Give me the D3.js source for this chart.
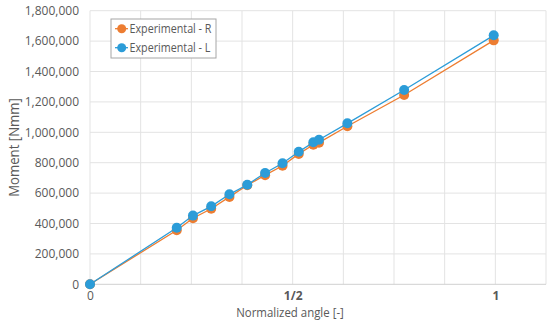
<!DOCTYPE html>
<html>
<head>
<meta charset="utf-8">
<script src="https://cdn.jsdelivr.net/npm/d3@7"></script>
<style>
  body { margin: 0; background: #fff; }
  text { font-family: "Open Sans", "Noto Sans", sans-serif; fill: #595959; }
</style>
</head>
<body>
<script>
// normalized angle values (shared by both series)
const angles = [0, 0.214, 0.254, 0.299, 0.344, 0.388, 0.432, 0.475, 0.515, 0.551, 0.565, 0.635, 0.775, 0.996];
const momentR = [0, 356000, 435000, 497000, 575000, 652000, 718000, 780000, 858000, 918000, 932000, 1040000, 1245000, 1605000];
const momentL = [0, 372000, 452000, 513000, 592000, 655000, 732000, 796000, 872000, 934000, 951000, 1059000, 1278000, 1638000];
const seriesNames = ["Experimental - R", "Experimental - L"];
const xTickVals = [0, 0.5, 1];
const xTickLabels = ["0", "1/2", "1"];

const width = 550, height = 326;
const margin = { top: 10.7, right: 4, bottom: 41.7, left: 90 };

var svg = d3.select("body")
    .append("svg")
    .attr("width", width)
    .attr("height", height);

const xScale = d3.scaleLinear().domain([0, 1.125]).range([margin.left, width - margin.right]);
const yScale = d3.scaleLinear().domain([0, 1800000]).range([height - margin.bottom, margin.top]);

const colors = ["#ED7D31", "#2B9CD8"];

// gridlines
svg.append("g").selectAll("line")
    .data(d3.range(0, 1.125 + 1e-9, 0.125))
    .enter().append("line")
    .attr("x1", d => xScale(d)).attr("x2", d => xScale(d))
    .attr("y1", yScale(0)).attr("y2", yScale(1800000))
    .attr("stroke", "#e3e3e3").attr("stroke-width", 1);

svg.append("g").selectAll("line")
    .data(d3.range(0, 1800001, 200000))
    .enter().append("line")
    .attr("x1", xScale(0)).attr("x2", xScale(1.125))
    .attr("y1", d => yScale(d)).attr("y2", d => yScale(d))
    .attr("stroke", d => d === 0 ? "#d0d0d0" : "#e3e3e3").attr("stroke-width", 1);

// y axis labels
const yAxis = d3.axisLeft(yScale).tickValues(d3.range(0, 1800001, 200000)).tickFormat(d3.format(",")).tickSize(0).tickPadding(11);
svg.append("g")
    .attr("transform", `translate(${margin.left},0)`)
    .call(yAxis)
    .call(g => g.select(".domain").remove())
    .selectAll("text")
    .attr("font-size", 12).attr("fill", "#595959")
    .style("font-family", '"Open Sans", sans-serif');

// x axis labels
const xAxis = d3.axisBottom(xScale).tickValues(xTickVals).tickFormat((d, i) => xTickLabels[i]).tickSize(0).tickPadding(7);
svg.append("g")
    .attr("transform", `translate(0,${yScale(0)})`)
    .call(xAxis)
    .call(g => g.select(".domain").remove())
    .selectAll("text")
    .attr("font-size", 12).attr("fill", (d, i) => i === 0 ? "#595959" : "#222")
    .attr("font-weight", (d, i) => i === 0 ? "normal" : "bold")
    .style("font-family", '"Open Sans", sans-serif');

// axis titles (slightly condensed, like the reference)
svg.append("text")
    .attr("transform", "translate(290,317) scale(0.88,1)")
    .attr("text-anchor", "middle")
    .attr("font-size", 13)
    .text("Normalized angle [-]");

svg.append("text")
    .attr("transform", `translate(18.5,${(yScale(0) + yScale(1800000)) / 2}) rotate(-90) scale(0.91,1)`)
    .attr("text-anchor", "middle")
    .attr("font-size", 14.5)
    .text("Moment [Nmm]");

// series
const series = [momentR, momentL].map((vals, i) => ({
    name: seriesNames[i],
    color: colors[i],
    points: vals.map((v, j) => ({ x: angles[j], y: v }))
}));

const line = d3.line().x(d => xScale(d.x)).y(d => yScale(d.y));

const seriesGroup = svg.selectAll(".series")
    .data(series).enter().append("g")
    .attr("class", "series");

seriesGroup.append("path")
    .attr("d", d => line(d.points))
    .attr("fill", "none")
    .attr("stroke", d => d.color)
    .attr("stroke-width", 1.3);

seriesGroup.selectAll("circle")
    .data(d => d.points.map(p => ({ ...p, color: d.color })))
    .enter().append("circle")
    .attr("cx", d => xScale(d.x))
    .attr("cy", d => yScale(d.y))
    .attr("r", 5)
    .attr("fill", d => d.color);

// legend
const legend = svg.append("g").attr("transform", "translate(111,19)");
legend.append("rect")
    .attr("width", 105).attr("height", 39)
    .attr("fill", "#fff").attr("stroke", "#a6a6a6").attr("stroke-width", 1);

const legendItem = legend.selectAll(".legendItem")
    .data(series).enter().append("g")
    .attr("class", "legendItem")
    .attr("transform", (d, i) => `translate(0,${9.7 + i * 19})`);

legendItem.append("line")
    .attr("x1", 4).attr("x2", 17)
    .attr("stroke", d => d.color).attr("stroke-width", 1.3);
legendItem.append("circle")
    .attr("cx", 10.7).attr("r", 4.5)
    .attr("fill", d => d.color);
legendItem.append("text")
    .attr("transform", "translate(18.5,0) scale(0.86,1)")
    .attr("dy", "0.35em")
    .attr("font-size", 12.5)
    .text(d => d.name);
</script>
</body>
</html>
